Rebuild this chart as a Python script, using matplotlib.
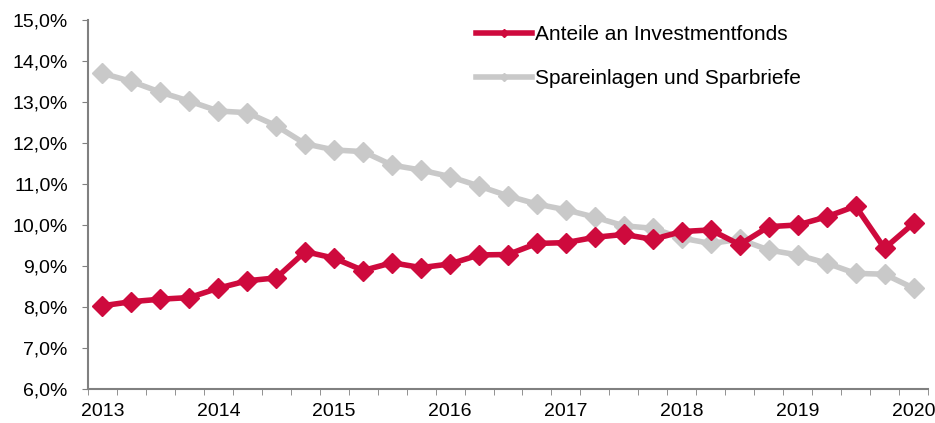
import numpy as np
import matplotlib
matplotlib.use("Agg")
from matplotlib import pyplot as plt
from matplotlib.lines import Line2D

plt.rcParams['font.family'] = ['Liberation Sans', 'DejaVu Sans']

# quarterly values, 2013 to 2020
years = ['2013', '2014', '2015', '2016', '2017', '2018', '2019', '2020']
fonds = [8.03, 8.13, 8.19, 8.23, 8.46, 8.64, 8.71, 9.35, 9.19, 8.89,
         9.08, 8.96, 9.05, 9.27, 9.28, 9.55, 9.57, 9.70, 9.77, 9.65,
         9.84, 9.88, 9.52, 9.96, 10.0, 10.20, 10.46, 9.43, 10.04]
spar = [13.70, 13.50, 13.24, 13.02, 12.78, 12.74, 12.42, 11.98, 11.83, 11.79,
        11.46, 11.34, 11.18, 10.95, 10.71, 10.51, 10.37, 10.19, 9.98, 9.92,
        9.68, 9.55, 9.65, 9.39, 9.27, 9.07, 8.82, 8.80, 8.46]
labels = ['Anteile an Investmentfonds', 'Spareinlagen und Sparbriefe']

red = '#CE0A3D'
grey = '#C9C9C9'

x = np.arange(len(fonds))

fig = plt.figure(figsize=(9.35, 4.23), dpi=100)
ax = fig.add_axes([88/935, 34/423, 840/935, 369/423])

ax.plot(x, spar, color=grey, lw=4, marker='D', ms=10, zorder=2)
ax.plot(x, fonds, color=red, lw=4, marker='D', ms=10, zorder=3)

ax.set_xlim(-0.5, len(x) - 0.5)
ax.set_ylim(6, 15)
ax.set_yticks(np.arange(6, 15.1, 1))
ax.set_yticklabels([f'{v:.1f}%'.replace('.', ',') for v in np.arange(6, 15.1, 1)])

# ticks between categories, labels every fourth quarter
ax.set_xticks(np.arange(-0.5, len(x)), minor=True)
ax.set_xticks(np.arange(0, len(x), 4))
ax.set_xticklabels(years)
ax.tick_params(axis='x', which='major', length=0, pad=10)
ax.tick_params(axis='x', which='minor', length=4, color='#808080')
ax.tick_params(axis='y', length=4.5, pad=10, color='#808080')
ax.tick_params(labelsize=14, labelcolor='black')

for s in ['top', 'right']:
    ax.spines[s].set_visible(False)
for s in ['left', 'bottom']:
    ax.spines[s].set_color('#808080')
    ax.spines[s].set_linewidth(1.5)

handles = [Line2D([0], [0], color=red, lw=4, marker='D', ms=4),
           Line2D([0], [0], color=grey, lw=4, marker='D', ms=4)]
ax.legend(handles, labels, loc='upper left', bbox_to_anchor=(0.462, 0.986),
          frameon=False, fontsize=15, handlelength=2.7, handletextpad=0.12,
          labelspacing=1.2, borderpad=0, borderaxespad=0)

plt.savefig('out.png', dpi=100)
